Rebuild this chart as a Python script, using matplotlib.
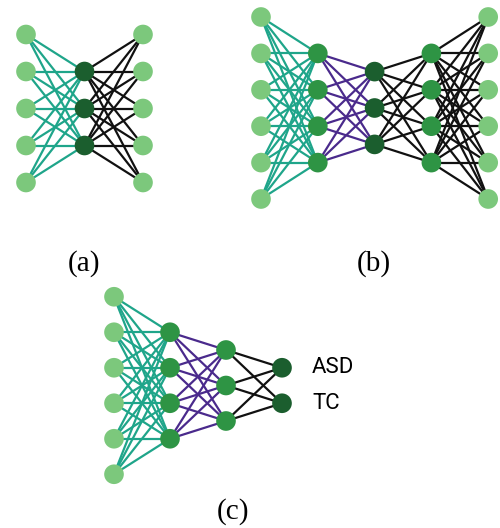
import matplotlib.pyplot as plt

# layer sizes of the three networks
layers_a = [5, 3, 5]
layers_b = [6, 4, 3, 4, 6]
layers_c = [6, 4, 3, 2]

LIGHT = '#7cc87c'
MID = '#2e9444'
DARK = '#1b5e2e'
TEAL = '#1fa58a'
PURPLE = '#4a2a8c'
BLACK = '#111111'

node_cols_a = [LIGHT, DARK, LIGHT]
node_cols_b = [LIGHT, MID, DARK, MID, LIGHT]
node_cols_c = [LIGHT, MID, MID, DARK]
edge_cols_a = [TEAL, BLACK]
edge_cols_b = [TEAL, PURPLE, BLACK, BLACK]
edge_cols_c = [TEAL, PURPLE, BLACK]

panel_labels = ['(a)', '(b)', '(c)']
class_names = ['ASD', 'TC']


def draw_net(ax, sizes, node_cols, edge_cols, x0, dx, yc, dy):
    pos = []
    for i, n in enumerate(sizes):
        ys = [yc + (k - (n - 1) / 2) * dy for k in range(n)]
        pos.append([(x0 + i * dx, y) for y in ys])
    for i in range(len(sizes) - 1):
        for (xa, ya) in pos[i]:
            for (xb, yb) in pos[i + 1]:
                ax.plot([xa, xb], [ya, yb], color=edge_cols[i], lw=1.6, zorder=1)
    for i, layer in enumerate(pos):
        ax.scatter([p[0] for p in layer], [p[1] for p in layer], s=200,
                   color=node_cols[i], edgecolors='none', zorder=2)
    return pos


fig = plt.figure(figsize=(5, 5.28), dpi=100)
ax = fig.add_axes([0, 0, 1, 1])
ax.set_xlim(0, 500)
ax.set_ylim(528, 0)
ax.axis('off')

draw_net(ax, layers_a, node_cols_a, edge_cols_a, 26, 58.5, 108.5, 37)
draw_net(ax, layers_b, node_cols_b, edge_cols_b, 261, 56.8, 108, 36.4)
pos_c = draw_net(ax, layers_c, node_cols_c, edge_cols_c, 114, 56, 385.5, 35.5)

for (x, y), name in zip(pos_c[-1], class_names):
    ax.text(x + 30, y, name, fontsize=16, family='Roboto', va='center', ha='left')

for (x, y), lab in zip([(84, 264), (374, 264), (233, 512)], panel_labels):
    ax.text(x, y, lab, fontsize=21, family='Liberation Serif', ha='center', va='center')

fig.savefig('out.png', dpi=100)
